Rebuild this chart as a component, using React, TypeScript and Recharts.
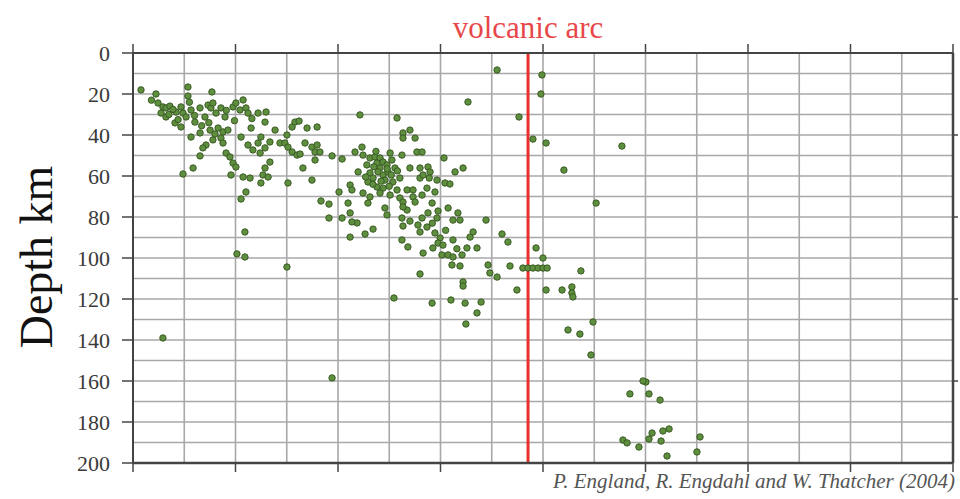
import { ScatterChart, Scatter, XAxis, YAxis, CartesianGrid, ReferenceLine } from 'recharts';

// horizontal distance (km) / depth (km) pairs
const shallowBand: [number, number][] = [
  [3.9, 18.0], [11.2, 20.0], [26.8, 16.6], [26.8, 21.0], [38.5, 19.0], [12.2, 24.4], [14.6, 26.3], [16.1, 26.8],
  [18.0, 25.9], [13.7, 29.3], [16.1, 31.2], [21.0, 28.8], [23.4, 26.3], [24.4, 29.3], [25.9, 31.2], [23.4, 36.1],
  [20.5, 34.1], [28.3, 27.8], [30.2, 33.7], [32.7, 26.8], [36.6, 25.4], [38.0, 26.8], [39.0, 24.4], [35.1, 31.2],
  [40.5, 29.3], [42.9, 26.8], [44.9, 31.2], [48.8, 26.3], [50.2, 24.4], [53.7, 22.9], [52.2, 27.8], [55.1, 26.8],
  [56.1, 29.3], [61.0, 29.3], [64.9, 28.8], [64.4, 33.7], [57.6, 36.6], [62.4, 41.0], [66.8, 43.4], [69.3, 37.6],
  [71.7, 43.9], [28.3, 41.0], [32.7, 39.0], [37.6, 37.6], [41.5, 36.6], [43.9, 38.5], [46.3, 37.6], [42.9, 41.5],
  [39.0, 42.4], [35.6, 44.9], [34.1, 46.3], [32.7, 50.2], [43.9, 43.9], [45.4, 48.8], [47.3, 50.7], [48.8, 53.7],
  [50.2, 55.6], [52.7, 41.0], [56.1, 44.9], [58.5, 47.3], [61.0, 43.9], [62.0, 48.8], [64.4, 46.3], [66.8, 53.2],
  [64.4, 56.1], [63.4, 59.5], [65.9, 60.5], [62.4, 63.4], [57.1, 61.0], [53.7, 60.5], [47.8, 59.5], [29.3, 56.1],
  [24.4, 59.0], [55.1, 67.8], [52.7, 71.2], [54.6, 87.3], [50.7, 98.0], [54.6, 99.5], [75.1, 104.4], [14.6, 139.0],
  [19.5, 27.5], [30.0, 30.5], [45.5, 28.0], [33.5, 35.5], [58.0, 32.0], [9.0, 23.0], [27.5, 24.0],
  [17.5, 30.0], [22.0, 32.5], [37.0, 34.0], [49.5, 33.0], [40.0, 39.5],
];

const forearcCluster: [number, number][] = [
  [79.0, 33.7], [81.0, 33.2], [77.6, 36.1], [84.9, 36.6], [89.8, 36.1], [75.1, 40.0], [74.1, 43.9], [75.6, 45.9],
  [77.6, 48.3], [80.0, 49.8], [81.5, 49.3], [83.9, 43.9], [87.3, 45.9], [89.8, 44.9], [88.8, 48.3], [91.2, 48.3],
  [88.8, 52.2], [97.1, 50.2], [102.0, 51.7], [82.9, 56.1], [75.6, 63.4], [87.3, 62.0], [100.5, 67.8], [91.7, 72.2],
  [95.6, 73.7], [104.9, 73.2], [105.9, 64.4], [109.8, 58.0], [108.3, 48.3], [111.7, 45.9], [112.2, 49.8], [115.6, 51.2],
  [118.0, 50.7], [120.5, 51.2], [119.0, 53.7], [122.0, 53.2], [123.9, 54.6], [120.5, 56.1], [115.6, 58.5], [117.1, 61.0],
  [122.0, 59.5], [124.4, 58.0], [127.8, 56.1], [125.4, 48.8], [131.2, 49.8], [131.7, 39.0], [135.1, 37.6], [131.7, 41.5],
  [137.6, 41.5], [138.5, 48.3], [141.0, 48.3], [114.6, 62.9], [119.0, 65.4], [122.0, 65.9], [126.8, 62.9], [128.8, 66.8],
  [133.7, 66.8], [136.6, 66.8], [140.0, 61.0], [140.0, 56.1], [135.1, 56.1], [130.2, 61.0], [125.4, 69.3], [130.2, 70.7],
  [120.5, 68.3], [115.6, 70.2], [112.2, 68.3], [106.8, 66.8], [131.7, 72.7], [136.6, 70.2], [141.0, 69.3], [110.7, 30.2],
  [128.8, 31.7], [114.1, 54.6], [122.9, 62.0], [126.3, 52.2], [131.2, 91.2], [134.1, 94.6], [139.0, 83.9], [131.7, 84.4],
  [135.1, 82.0], [131.2, 80.5], [133.7, 76.6], [131.7, 75.1], [137.6, 72.7], [122.9, 75.6], [123.9, 79.0], [114.6, 73.2],
  [117.1, 85.9], [113.2, 88.3], [105.9, 89.8], [109.3, 82.9], [106.8, 82.4], [105.9, 78.0], [102.0, 80.5], [95.6, 80.5],
  [127.3, 119.5], [97.1, 158.5],
  [117.5, 55.5], [119.5, 58.0], [124.0, 56.5], [121.0, 62.5], [117.0, 64.0], [126.0, 59.5], [118.5, 48.0],
  [129.0, 57.5], [113.5, 60.5], [125.0, 65.0],
];

const arcCluster: [number, number][] = [
  [163.4, 23.9], [188.3, 31.2], [199.0, 20.0], [199.5, 10.7], [177.6, 8.3], [195.1, 42.0], [201.5, 43.9], [210.2, 57.1],
  [238.5, 45.4], [225.9, 73.2], [151.7, 51.2], [161.0, 56.1], [157.1, 58.0], [143.9, 55.6], [144.9, 58.0], [141.5, 59.5],
  [148.3, 62.0], [152.2, 63.4], [154.6, 63.9], [143.4, 65.9], [147.3, 67.8], [145.9, 73.2], [153.7, 75.6], [158.5, 78.0],
  [156.1, 81.5], [159.5, 81.5], [148.8, 77.1], [143.9, 78.0], [148.3, 80.5], [141.0, 80.5], [143.4, 84.9], [140.0, 87.3],
  [147.3, 87.8], [149.8, 90.2], [148.8, 92.7], [151.2, 93.7], [146.3, 95.1], [141.5, 97.6], [150.7, 98.5], [153.7, 98.5],
  [156.1, 99.5], [156.1, 91.2], [164.4, 89.8], [165.9, 87.3], [162.9, 95.1], [167.8, 95.1], [160.5, 98.5], [155.6, 103.4],
  [159.5, 103.9], [172.2, 81.5], [180.0, 88.3], [182.9, 92.2], [173.2, 103.4], [174.1, 107.3], [177.6, 109.3], [183.9, 103.9],
  [187.3, 115.6], [196.6, 95.1], [200.0, 100.0], [190.2, 104.9], [192.7, 104.9], [195.1, 104.9], [197.6, 104.9], [200.0, 104.9],
  [202.0, 104.9], [201.5, 115.6], [209.3, 115.6], [214.1, 114.1], [214.1, 117.1], [214.6, 119.0], [218.5, 106.3], [161.0, 111.7],
  [161.0, 113.7], [145.9, 122.0], [155.1, 120.5], [162.0, 122.0], [169.8, 121.5], [167.8, 126.8], [162.4, 132.2], [212.2, 135.1],
  [218.0, 137.1], [224.4, 131.2], [223.4, 147.3], [140.0, 107.8],
  [146.0, 83.0], [152.5, 86.5], [158.0, 95.5], [144.5, 61.0],
];

const deepCluster: [number, number][] = [
  [250.2, 160.5], [248.8, 160.0], [242.4, 166.3], [251.7, 166.3], [257.1, 169.3], [239.0, 188.8], [241.0, 190.2],
  [246.8, 192.2], [251.7, 188.3], [253.2, 185.4], [258.5, 184.4], [261.5, 183.4], [257.6, 189.3], [260.5, 196.6],
  [275.1, 194.6], [276.6, 187.3],
];

const arcPosition = 192.7;
const distanceTicks = [0, 25, 50, 75, 100, 125, 150, 175, 200, 225, 250, 275, 300, 325, 350, 375, 400];
const depthTicks = [0, 10, 20, 30, 40, 50, 60, 70, 80, 90, 100, 110, 120, 130, 140, 150, 160, 170, 180, 190, 200];

const serif = '"Liberation Serif", "Times New Roman", serif';
const frame = '#444';

const toPoints = (rows: [number, number][]) => rows.map(([x, depth]) => ({ x, depth }));

const Quake = (props: any) => (
  <circle cx={props.cx} cy={props.cy} r={3.2} fill="#5e8f3e" stroke="#3a5a24" strokeWidth={1} />
);

const BottomTick = (props: any) => {
  const { x, y, payload } = props;
  if (payload.value % 50 !== 0) return <g />;
  return <line x1={x} x2={x} y1={y} y2={y + 9} stroke={frame} strokeWidth={1.5} />;
};

const TopTick = (props: any) => {
  const { x, y, payload } = props;
  if (payload.value % 50 !== 0) return <g />;
  return <line x1={x} x2={x} y1={y} y2={y - 9} stroke={frame} strokeWidth={1.5} />;
};

const DepthTick = (props: any) => {
  const { x, y, payload } = props;
  if (payload.value % 20 !== 0) return <g />;
  return (
    <g>
      <line x1={x - 11} x2={x} y1={y} y2={y} stroke={frame} strokeWidth={1.5} />
      <text x={x - 23} y={y} dy={7.5} textAnchor="end" fontFamily={serif} fontSize={22} fill="#3a3a3a">
        {payload.value}
      </text>
    </g>
  );
};

const RightTick = (props: any) => {
  const { x, y, payload } = props;
  if (payload.value % 40 !== 0 || payload.value === 0 || payload.value === 200) return <g />;
  return <line x1={x} x2={x + 5} y1={y} y2={y} stroke={frame} strokeWidth={1.5} />;
};

export default function App() {
  return (
    <div style={{ position: 'absolute', left: 0, top: 0, width: 960, height: 499, background: '#fff' }}>
      <ScatterChart width={960} height={499} margin={{ top: 52, right: 6, bottom: 35, left: 0 }}>
        <CartesianGrid stroke="#a8a8a8" strokeWidth={1.6} />
        <XAxis
          dataKey="x"
          type="number"
          domain={[0, 400]}
          ticks={distanceTicks}
          interval={0}
          height={1}
          tickSize={0}
          tickMargin={0}
          tickLine={false}
          tick={BottomTick}
          axisLine={{ stroke: frame, strokeWidth: 2.5 }}
        />
        <XAxis
          xAxisId="top"
          orientation="top"
          dataKey="x"
          type="number"
          domain={[0, 400]}
          ticks={distanceTicks}
          interval={0}
          height={1}
          tickSize={0}
          tickMargin={0}
          tickLine={false}
          tick={TopTick}
          axisLine={{ stroke: frame, strokeWidth: 2 }}
        />
        <YAxis
          dataKey="depth"
          type="number"
          domain={[0, 200]}
          reversed
          ticks={depthTicks}
          interval={0}
          width={133}
          tickSize={0}
          tickMargin={0}
          tickLine={false}
          tick={DepthTick}
          axisLine={{ stroke: frame, strokeWidth: 2 }}
        />
        <YAxis
          yAxisId="right"
          orientation="right"
          dataKey="depth"
          type="number"
          domain={[0, 200]}
          reversed
          ticks={depthTicks}
          interval={0}
          width={1}
          tickSize={0}
          tickMargin={0}
          tickLine={false}
          tick={RightTick}
          axisLine={{ stroke: frame, strokeWidth: 2.5 }}
        />
        <Scatter data={toPoints(shallowBand)} shape={Quake} isAnimationActive={false} />
        <Scatter data={toPoints(forearcCluster)} shape={Quake} isAnimationActive={false} />
        <Scatter data={toPoints(arcCluster)} shape={Quake} isAnimationActive={false} />
        <Scatter
          data={toPoints(deepCluster)}
          xAxisId="top"
          yAxisId="right"
          shape={Quake}
          isAnimationActive={false}
        />
        <ReferenceLine
          x={arcPosition}
          stroke="#e8302c"
          strokeWidth={3}
          label={{ value: 'volcanic arc', position: 'top', offset: 15, fill: '#e8474a', fontSize: 31, fontFamily: serif }}
        />
      </ScatterChart>
      <svg width={960} height={499} style={{ position: 'absolute', left: 0, top: 0, pointerEvents: 'none' }}>
        <text
          x={52}
          y={257}
          textAnchor="middle"
          transform="rotate(-90, 52, 257)"
          fontFamily={serif}
          fontSize={46}
          fill="#111"
        >
          Depth km
        </text>
        <text x={955} y={488} textAnchor="end" fontFamily={serif} fontStyle="italic" fontSize={21} fill="#555">
          P. England, R. Engdahl and W. Thatcher (2004)
        </text>
      </svg>
    </div>
  );
}
